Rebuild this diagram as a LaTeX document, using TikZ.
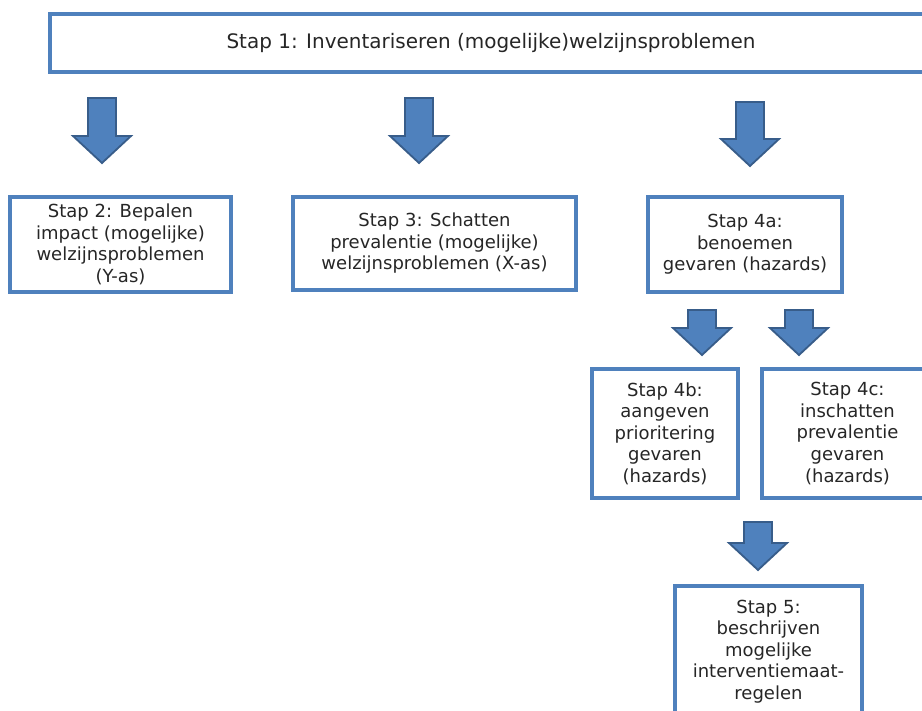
\documentclass[tikz,border=0pt]{standalone}
\usepackage{fontspec}
\setmainfont{DejaVu Sans}
\usepackage{tikz}
\usepackage{xcolor}
\usetikzlibrary{positioning}
\definecolor{stapblue}{RGB}{79,129,189}
\definecolor{stapdark}{RGB}{56,93,138}
\definecolor{staptext}{RGB}{38,38,38}

\begin{document}
\begin{tikzpicture}[x=0.025cm, y=-0.025cm,
    stapbox/.style={draw=stapblue, line width=2.9pt, fill=white, align=center,
        text=staptext, inner sep=0pt, font=\fontsize{12.8}{15.3}\selectfont},
    pics/downarrow/.style={code={
        \filldraw[fill=stapblue, draw=stapdark, line width=1.3pt, line join=miter]
        (-14,0) -- (14,0) -- (14,#1) -- (29,#1) -- (0,#1+27) -- (-29,#1) -- (-14,#1) -- cycle;
    }}]
                            \path[use as bounding box, clip] (0,0) rectangle (922,711);
                            \node[stapbox, minimum width=882*0.025cm, minimum height=58*0.025cm,
                                font=\fontsize{14.2}{17}\selectfont] (s1) at (491, 43)
                                {Stap 1: Inventariseren (mogelijke)welzijnsproblemen};
                            \node[stapbox, minimum width=221*0.025cm, minimum height=95*0.025cm] (s2) at (120.5, 244.5)
                                {Stap 2: Bepalen\\impact (mogelijke)\\welzijnsproblemen\\(Y-as)};
                            \node[stapbox, minimum width=283*0.025cm, minimum height=93*0.025cm] (s3) at (434.5, 243.5)
                                {Stap 3: Schatten\\prevalentie (mogelijke)\\welzijnsproblemen (X-as)};
                            \node[stapbox, minimum width=194*0.025cm, minimum height=95*0.025cm] (s4a) at (745, 244.5)
                                {Stap 4a:\\benoemen\\gevaren (hazards)};
                            \node[stapbox, minimum width=146*0.025cm, minimum height=129*0.025cm] (s4b) at (665, 433.5)
                                {Stap 4b:\\aangeven\\prioritering\\gevaren\\(hazards)};
                            \node[stapbox, minimum width=171*0.025cm, minimum height=129*0.025cm] (s4c) at (847.5, 433.5)
                                {Stap 4c:\\inschatten\\prevalentie\\gevaren\\(hazards)};
                            \node[stapbox, minimum width=187*0.025cm, minimum height=131*0.025cm] (s5) at (768.5, 651.5)
                                {Stap 5:\\beschrijven\\mogelijke\\interventiemaat-\\regelen};
                            \pic (a2) at (102, 98) {downarrow=38};
                            \pic (a3) at (419, 98) {downarrow=38};
                            \pic (a4a) at (750, 102) {downarrow=37};
                            \pic (a4b) at (702, 310) {downarrow=18};
                            \pic (a4c) at (799, 310) {downarrow=18};
                            \pic (a5) at (758, 522) {downarrow=21};
                        \end{tikzpicture}
\end{document}
